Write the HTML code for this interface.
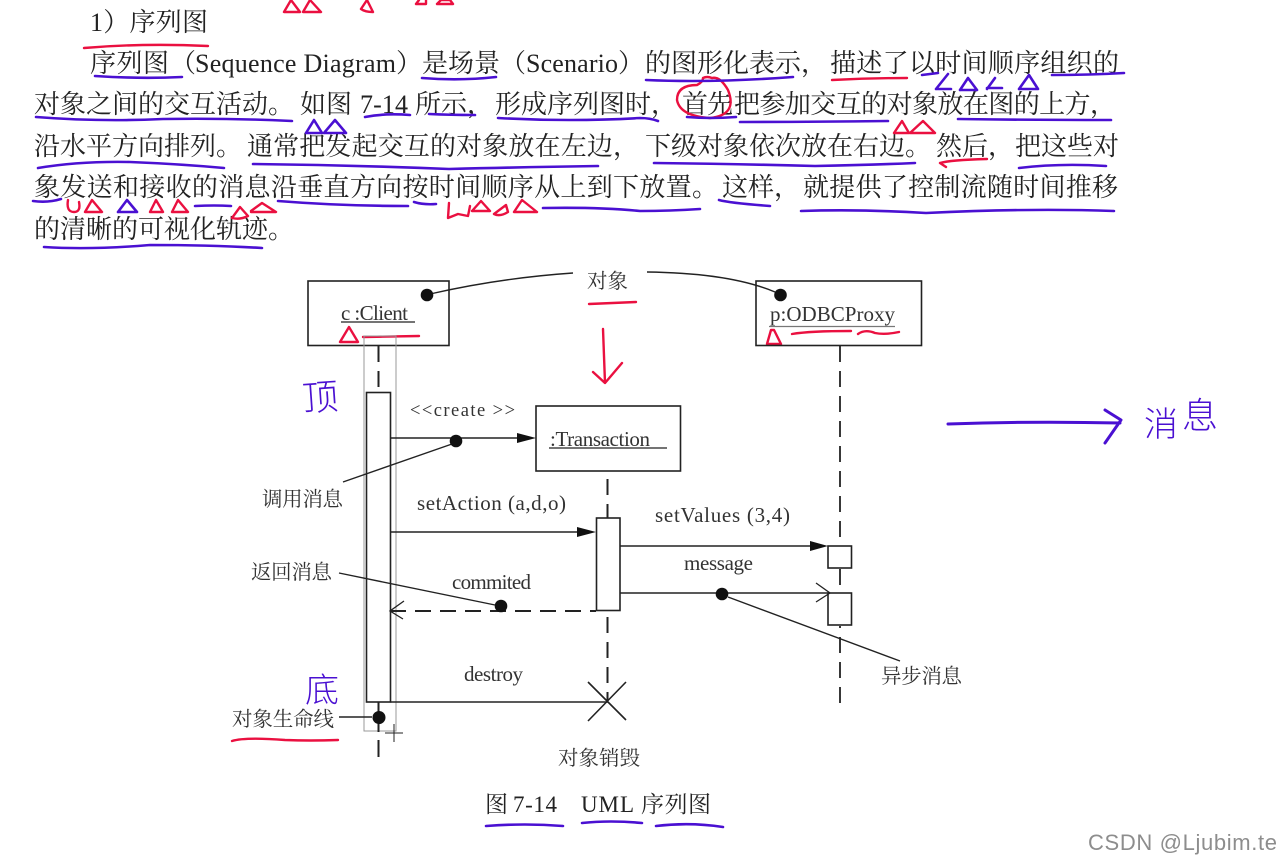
<!DOCTYPE html>
<html lang="zh"><head><meta charset="utf-8"><title>序列图</title>
<style>
html,body{margin:0;padding:0;background:#fff;width:1280px;height:864px;overflow:hidden}
svg{display:block;filter:blur(.35px)}
text{font-family:"Liberation Serif","Noto Serif CJK SC",serif;fill:#222}
.b{font-size:26px}
.d{font-size:21px;fill:#333}
.l{font-size:20.5px;fill:#333}
.r{fill:none;stroke:#ea1040;stroke-width:2.4;stroke-linecap:round;stroke-linejoin:round}
.u{fill:none;stroke:#4a10d2;stroke-width:2.6;stroke-linecap:round;stroke-linejoin:round}
.k{fill:none;stroke:#222;stroke-width:1.6}
.ds{fill:none;stroke:#222;stroke-width:2;stroke-dasharray:16 9}
.t{fill:none;stroke:#999;stroke-width:1}
.h{font-family:"Noto Sans CJK SC",sans-serif;fill:#4a10d2;font-weight:300}
</style></head><body>
<svg width="1280" height="864" viewBox="0 0 1280 864" xmlns="http://www.w3.org/2000/svg">
<rect width="1280" height="864" fill="#fff"/>
<!-- body text -->
<g class="b">
<text x="90" y="31" class="b" textLength="118" lengthAdjust="spacing">1）序列图</text>
<text x="90" y="72" class="b" textLength="79">序列图</text>
<text x="170" y="72" class="b">（</text>
<text x="195" y="72" class="b" textLength="201">Sequence Diagram</text>
<text x="396" y="72" class="b">）</text>
<text x="422" y="72" class="b" textLength="78">是场景</text>
<text x="500" y="72" class="b">（</text>
<text x="526" y="72" class="b" textLength="92">Scenario</text>
<text x="618" y="72" class="b">）</text>
<text x="645" y="72" class="b" textLength="182">的图形化表示，</text>
<text x="830" y="72" class="b" textLength="289">描述了以时间顺序组织的</text>
<text x="34" y="113" class="b" textLength="260">对象之间的交互活动。</text>
<text x="300" y="113" class="b" textLength="52">如图</text>
<text x="360" y="113" class="b" textLength="48">7-14</text>
<text x="415" y="113" class="b" textLength="78">所示，</text>
<text x="495" y="113" class="b" textLength="182">形成序列图时，</text>
<text x="682" y="113" class="b" textLength="51">首先</text>
<text x="734" y="113" class="b" textLength="382">把参加交互的对象放在图的上方，</text>
<text x="34" y="155" class="b" textLength="208">沿水平方向排列。</text>
<text x="247" y="155" class="b" textLength="392">通常把发起交互的对象放在左边，</text>
<text x="645" y="155" class="b" textLength="286">下级对象依次放在右边。</text>
<text x="936" y="155" class="b" textLength="78">然后，</text>
<text x="1015" y="155" class="b" textLength="104">把这些对</text>
<text x="34" y="196" class="b" textLength="684">象发送和接收的消息沿垂直方向按时间顺序从上到下放置。</text>
<text x="722" y="196" class="b" textLength="78">这样，</text>
<text x="803" y="196" class="b" textLength="315">就提供了控制流随时间推移</text>
<text x="34" y="238" class="b" textLength="260">的清晰的可视化轨迹。</text>
</g>
<!-- red marks over text -->
<g class="r">
<path d="M84 48Q143 43 208 46M832 80Q870 78 907 78M940 163Q950 160 987 159M940 163L946 167"/>
<path d="M284 12L291 0M291 0L300 12H284M303 12L310 0L321 12H303M361 9L367 0L373 12Q365 12 361 9M416 4L419 0M426 0V4H416M437 4L441 0H450L453 4H437"/>
<path d="M894 133L902 121L909 133H894M910 133L923 121L935 133H910"/>
<path d="M68 200Q66 212 74 212Q81 212 79 202M85 212L92 200L102 212H85M150 212L156 200L163 212H150M172 212L178 200L188 212H172"/>
<path d="M232 218L240 207L248 216Q240 220 232 218M251 211L262 203L276 212H251"/>
<path d="M449 203L448 218L458 214L468 216L470 206M472 211L481 201L490 211H472M494 214L506 205L508 212Q500 217 494 214M514 212L522 200L537 212H514"/>
<path d="M712 78Q720 76 728 90Q738 115 710 118Q680 116 677 100Q677 85 697 85Q703 82 703 78Q707 76 712 78"/>
<path d="M340 342L349 327L358 342H340M363 337L419 336"/>
<path d="M767 344L771 330L774 330L781 344H767M792 334Q810 331 851 331M858 334Q865 329 875 333Q885 335 899 332"/>
<path d="M589 304Q612 303 636 302M603 329L605 383M593 372L605 383L622 363M232 741Q245 737 285 740Q310 741 338 740"/>
</g>
<!-- blue marks -->
<g class="u">
<path d="M95 76Q140 79 182 77M422 78Q460 81 496 77M36 117Q100 122 163 119Q230 118 292 121M365 117Q385 113 410 115M429 114Q450 115 475 115M498 118Q570 122 640 118Q650 118 658 121"/>
<path d="M646 80Q713 83 793 77M922 75L938 73M1052 75Q1090 75 1124 73M687 117Q710 119 736 117M740 122Q810 122 888 121M958 119Q1030 120 1111 120"/>
<path d="M38 168Q80 161 130 162Q180 164 224 168M253 164Q350 165 449 169Q530 167 598 166M654 163Q740 164 815 166Q870 165 915 163M1019 168Q1060 163 1106 166"/>
<path d="M33 201Q48 203 61 199M195 206Q215 205 231 206M278 201Q340 206 408 206M414 202Q424 205 436 204M543 208Q600 207 640 211Q670 211 700 209M719 200Q730 203 770 206M801 211Q860 209 926 213Q1030 208 1114 211M44 247Q90 250 150 245Q210 245 262 248"/>
<path d="M306 133L314 120L322 133H306M324 133L335 120L346 133H324M118 212L127 200L137 212H118"/>
<path d="M936 89L948 74M936 89H951M960 90L968 78L977 90H960M987 89L995 78M1002 88H987M1019 89L1029 75L1038 89H1019"/>
<path d="M486 826Q525 823 563 826M582 823Q610 820 642 823M656 826Q690 822 723 827"/>
<path d="M948 424Q1030 421 1120 423M1105 410L1121 420L1105 443" stroke-width="3"/>
</g>
<text class="h" x="302" y="410" font-size="36" transform="rotate(-4 320 395)">顶</text>
<text class="h" x="305" y="702" font-size="34">底</text>
<text class="h" x="1144" y="436" font-size="34">消</text>
<text class="h" x="1182" y="428" font-size="36">息</text>
<!-- diagram boxes -->
<g class="k">
<rect x="308" y="281" width="141" height="64.5"/>
<rect x="756" y="281" width="165.5" height="64.5"/>
<rect x="536" y="406" width="144.5" height="65"/>
<rect x="366.5" y="392.5" width="24" height="309.5"/>
<rect x="596.5" y="518" width="23.5" height="92.5"/>
<rect x="828" y="546" width="23.5" height="22"/>
<rect x="828" y="593" width="23.5" height="32"/>
</g>
<rect class="t" x="364" y="336" width="32" height="395"/>
<path d="M385 733H403M394 724V742" stroke="#222" stroke-width="1" fill="none"/>
<!-- lifelines -->
<g class="ds">
<path d="M378.5 346V392"/>
<path d="M378.5 702V732M378.5 740V757" stroke-dasharray="none"/>
<path d="M607.5 479V518M607.5 617V700"/>
<path d="M840 346V545" stroke-width="1.8"/>
<path d="M840 569V592" stroke-width="1.8"/>
<path d="M840 703V626" stroke-width="1.8"/>
<path d="M390 611H596"/>
</g>
<!-- messages -->
<g class="k">
<path d="M390.5 438H525M390.5 532H585M620 546H816M620 593H829M390.5 702H608"/>
<path d="M588 682L626 720M626 682L588 721"/>
<path d="M404 601L390 611L403 619" stroke-width="1.3"/>
<path d="M816 583L830 593L816 602" stroke-width="1.3"/>
<path d="M430 294Q500 278 573 273M647 272Q730 273 775 292" stroke-width="1.4"/>
<path d="M343 482L452 444M339 573L495 605M728 597L900 661M339 717H372" stroke-width="1.4"/>
</g>
<g fill="#111">
<path d="M536 438L517 433V443Z"/>
<path d="M596 532L577 527V537Z"/>
<path d="M828 546L810 541V551Z"/>
<circle cx="427" cy="295" r="6.3"/><circle cx="780.5" cy="295" r="6.3"/>
<circle cx="456" cy="441" r="6.3"/><circle cx="501" cy="606" r="6.3"/>
<circle cx="722" cy="594" r="6.3"/><circle cx="379" cy="717.5" r="6.5"/>
</g>
<!-- underlines in boxes -->
<g stroke="#222" stroke-width="1.3" fill="none">
<path d="M341 322H415M549 448H667"/>
<path d="M769 326.500H895" stroke="#777"/>
</g>
<!-- diagram labels -->
<text class="d" x="341" y="320" textLength="67">c :Client</text>
<text class="d" x="770" y="321" textLength="125">p:ODBCProxy</text>
<text class="d" x="550" y="446" textLength="100">:Transaction</text>
<text class="d" x="410" y="416" style="font-size:18.5px" textLength="105">&lt;&lt;create &gt;&gt;</text>
<text class="d" x="417" y="510" textLength="149">setAction (a,d,o)</text>
<text class="d" x="655" y="522" textLength="135">setValues (3,4)</text>
<text class="d" x="684" y="570" textLength="69">message</text>
<text class="d" x="452" y="589" textLength="79">commited</text>
<text class="d" x="464" y="681" textLength="59">destroy</text>
<text class="l" x="587" y="288" textLength="41">对象</text>
<text class="l" x="262" y="506" textLength="81">调用消息</text>
<text class="l" x="251" y="579" textLength="81">返回消息</text>
<text class="l" x="881" y="683" textLength="81">异步消息</text>
<text class="l" x="232" y="726" textLength="102">对象生命线</text>
<text class="l" x="558" y="765" textLength="82">对象销毁</text>
<text x="485" y="812" style="font-size:23px">图</text>
<text x="513" y="812" style="font-size:23px" textLength="44">7-14</text>
<text x="581" y="812" style="font-size:23px" textLength="53">UML</text>
<text x="641" y="812" style="font-size:23px" textLength="70">序列图</text>
<text x="1088" y="850" style="font-family:'Liberation Sans',sans-serif;font-size:22px;fill:#8d8d8d" textLength="189">CSDN @Ljubim.te</text>
</svg>
</body></html>
